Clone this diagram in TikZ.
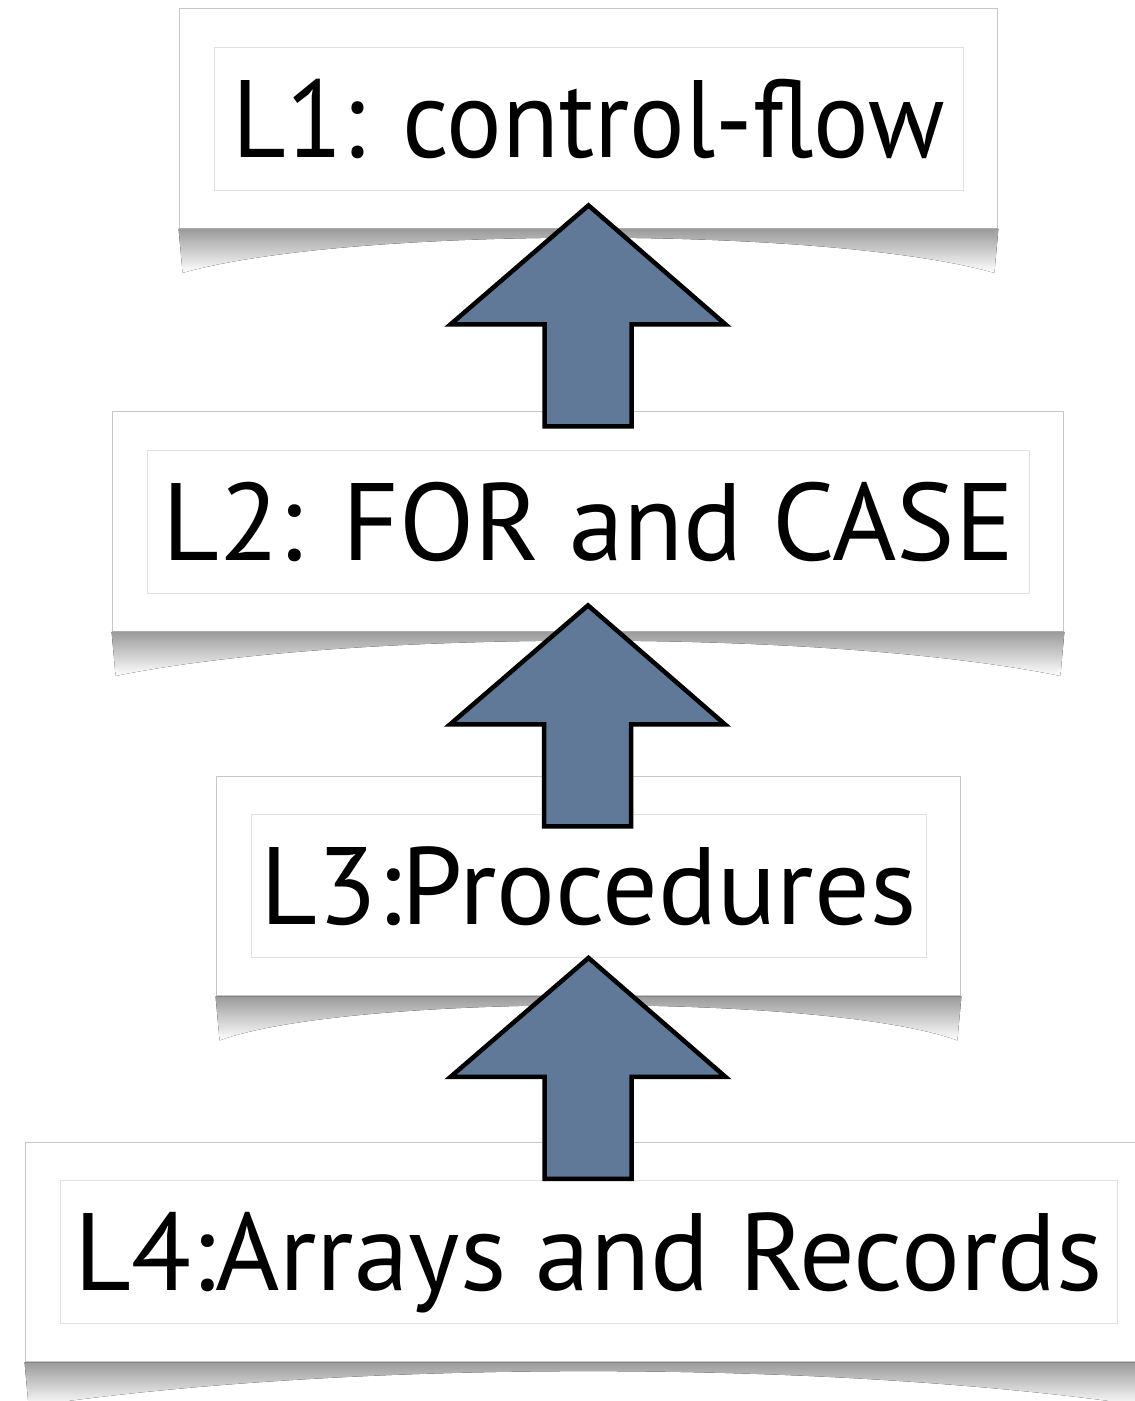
\documentclass[tikz,border=0pt]{standalone}
\usepackage{fontspec}
\setmainfont{PT Sans}
\usepackage{graphicx}
\usepackage{tikz}
\usetikzlibrary{calc,fit,backgrounds}
\definecolor{lvArrow}{RGB}{96,121,152}

\begin{document}
\begin{tikzpicture}[
			x=1pt,y=-1pt,
			lv/.style={
				draw=black!12,
				fill=white,
				line width=0.8pt,
				inner sep=0pt,
				minimum height=143pt,
				text height=77pt,
				text depth=0pt,
				font=\fontsize{110}{110}\selectfont
			},
			card/.style={
				draw=black!22,
				fill=white,
				line width=1pt,
				inner xsep=34.5pt,
				inner ysep=38pt
			},
			curl/.style={top color=black!42,bottom color=white},
			uparrow/.style={draw=black,fill=lvArrow,line width=4.5pt,line join=miter}
			]
			\useasboundingbox (0,0) rectangle (1135,1401);
			\node[lv,minimum width=749pt](in1) at (588.5,118.5){\resizebox{712pt}{\height}{L1: control-flow}};
			\node[lv,minimum width=882pt](in2) at (588,521.5){L2: FOR and CASE};
			\node[lv,minimum width=675pt](in3) at (588.5,886){L3:Procedures};
			\node[lv,minimum width=1057pt](in4) at (588.5,1252){L4:Arrays and Records};
			\begin{scope}[on background layer]
				\fill[white](0,0) rectangle (1135,1401);
				\node[card,fit=(in1)](c1){};
				\node[card,fit=(in2)](c2){};
				\node[card,fit=(in3)](c3){};
				\node[card,fit=(in4)](c4){};
				\foreach \c in {c1,c2,c3,c4}
					\fill[curl](\c.south west) -- ($(\c.south west)+(4,44)$) .. controls ($(\c.south)+(-240,-3)$) and ($(\c.south)+(240,-3)$) .. ($(\c.south east)+(-4,44)$) -- (\c.south east) -- cycle;
			\end{scope}
			% block arrows between the levels
			\draw[uparrow]($(in1.south)+(0,15)$) coordinate(t1) -- ++(137,119) -- ++(-94,0) -- ++(0,102) -- ++(-87,0) -- ++(0,-102) -- ++(-94,0) -- cycle;
			\draw[uparrow]($(in2.south)+(0,12)$) coordinate(t2) -- ++(137,119) -- ++(-94,0) -- ++(0,102) -- ++(-87,0) -- ++(0,-102) -- ++(-94,0) -- cycle;
			\draw[uparrow]($(in3.south)+(0,0)$) coordinate(t3) -- ++(137,119) -- ++(-94,0) -- ++(0,102) -- ++(-87,0) -- ++(0,-102) -- ++(-94,0) -- cycle;
		\end{tikzpicture}
\end{document}
